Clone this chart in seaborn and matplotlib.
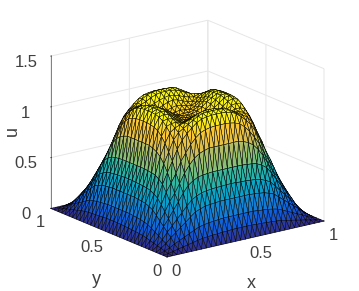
import numpy as np
import matplotlib
matplotlib.use("Agg")
import matplotlib.pyplot as plt
import matplotlib.tri as mtri
import seaborn as sns

# u on one octant of the symmetric surface: rows j = 0..16 (distance from edge), i = j..16
U_OCTANT = [
    [0.0] * 17,
    [.007, .016, .029, .038, .049, .059, .070, .079, .084, .088, .09, .095, .095, .10, .10, .10],
    [.036, .064, .085, .109, .131, .155, .176, .187, .196, .20, .205, .21, .21, .21, .21],
    [.111, .150, .191, .229, .270, .309, .328, .344, .35, .355, .36, .36, .36, .36],
    [.201, .256, .308, .363, .414, .440, .461, .47, .475, .48, .48, .485, .485],
    [.33, .40, .475, .54, .575, .60, .61, .615, .62, .62, .62, .62],
    [.47, .555, .645, .715, .77, .805, .825, .84, .84, .84, .84],
    [.64, .745, .82, .89, .945, .985, 1.005, 1.015, 1.02, 1.02],
    [.85, .93, .985, 1.03, 1.07, 1.095, 1.105, 1.11, 1.11],
    [.99, 1.02, 1.05, 1.08, 1.11, 1.125, 1.13, 1.13],
    [1.04, 1.05, 1.07, 1.095, 1.115, 1.125, 1.125],
    [1.03, 1.04, 1.055, 1.075, 1.09, 1.10],
    [1.01, 1.02, 1.04, 1.06, 1.07],
    [.995, 1.005, 1.02, 1.03],
    [.985, .992, 1.0],
    [.98, .985],
    [.98],
]
X_TICKS = [0, 0.5, 1]
Y_TICKS = [0, 0.5, 1]
Z_TICKS = [0, 0.5, 1, 1.5]
Z_LABELS = ["0", "0.5", "1", "1.5"]
XY_LABELS = ["0", "0.5", "1"]
PARULA = ["#352a87", "#0f5cdd", "#1481d6", "#06a4ca", "#2eb7a4",
          "#87bf77", "#d1bb59", "#fec832", "#f9fb0e"]

sns.set_style("white")
plt.rcParams["font.family"] = ["Liberation Sans", "DejaVu Sans"]
cmap = sns.blend_palette(PARULA, as_cmap=True)

n = 32
quarter = np.zeros((17, 17))
for j, row in enumerate(U_OCTANT):
    for k, v in enumerate(row):
        i = j + k
        quarter[j, i] = v
        quarter[i, j] = v
full = np.zeros((n + 1, n + 1))
for a in range(n + 1):
    for b in range(n + 1):
        full[a, b] = quarter[min(a, n - a), min(b, n - b)]

gx, gy = np.meshgrid(np.linspace(0, 1, n + 1), np.linspace(0, 1, n + 1), indexing="ij")
idx = lambda a, b: a * (n + 1) + b
tris = []
for a in range(n):
    for b in range(n):
        p, q, r, s = idx(a, b), idx(a + 1, b), idx(a + 1, b + 1), idx(a, b + 1)
        tris += [[p, q, r], [p, r, s]]
tri = mtri.Triangulation(gx.ravel(), gy.ravel(), np.array(tris))

fig = plt.figure(figsize=(3.59, 2.91), dpi=100)
ax = fig.add_axes([4 / 359, 3 / 291, 1, 1], projection="3d", proj_type="ortho")
ax.view_init(elev=18, azim=-126.5)
ax.set_box_aspect((1, 1, 0.82), zoom=1.065)
ax.plot_trisurf(tri, full.ravel(), cmap=cmap, vmin=0, vmax=1.1, edgecolor="k",
                linewidth=0.35, shade=False, antialiased=True)
ax.set_xlim(0, 1, view_margin=0)
ax.set_ylim(0, 1, view_margin=0)
ax.set_zlim(0, 1.5, view_margin=0)
ax.set_xticks(X_TICKS, XY_LABELS, ha="left")
ax.set_yticks(Y_TICKS, XY_LABELS, ha="right")
ax.set_zticks(Z_TICKS, Z_LABELS)
for axis in (ax.xaxis, ax.yaxis, ax.zaxis):
    axis.set_pane_color((1, 1, 1, 0))
    axis.pane.set_edgecolor((1, 1, 1, 0))
    axis._axinfo["grid"].update(color="#e6e6e6", linewidth=0.7)
    axis._axinfo["tick"].update(inward_factor=0.0, outward_factor=0.05)
    axis.line.set_color("#808080")
    axis.line.set_linewidth(0.7)
ax.tick_params(labelsize=12, colors="#404040", pad=-4)
ax.tick_params(axis="z", pad=2)
fig.text(251 / 359, 1 - 283 / 291, "x", fontsize=13, color="#404040", ha="center", va="center")
fig.text(96 / 359, 1 - 280 / 291, "y", fontsize=13, color="#404040", ha="center", va="center")
fig.text(12 / 359, 1 - 131 / 291, "u", fontsize=13, color="#404040", ha="center", va="center", rotation=90)
fig.savefig("out.png", dpi=100)
